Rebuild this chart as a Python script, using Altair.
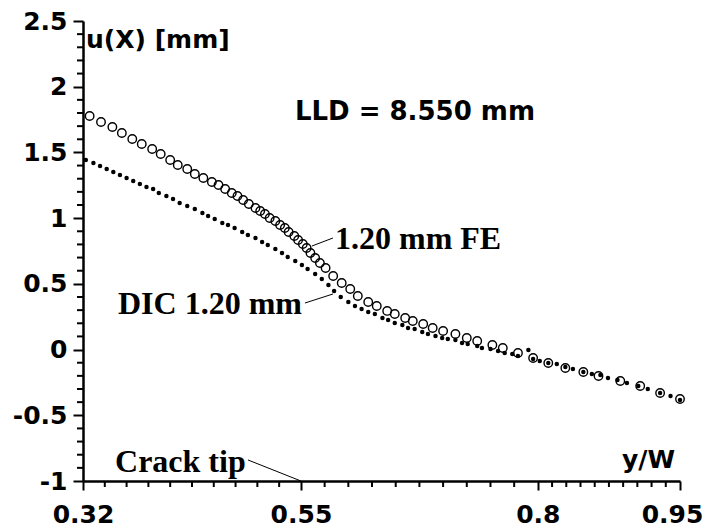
import altair as alt
import pandas as pd

# FE result (open circles)
fe_x = [0.327, 0.339, 0.351, 0.361, 0.372, 0.382, 0.393, 0.402, 0.412, 0.420,
        0.430, 0.438, 0.447, 0.456, 0.463, 0.470, 0.477, 0.483, 0.489, 0.495,
        0.502, 0.507, 0.512, 0.517, 0.523, 0.528, 0.533, 0.537, 0.543, 0.547,
        0.552, 0.556, 0.560, 0.565, 0.570, 0.576, 0.584, 0.593, 0.602, 0.610,
        0.621, 0.630, 0.641, 0.649, 0.660, 0.668, 0.679, 0.689, 0.700, 0.713,
        0.725, 0.736, 0.752, 0.763, 0.779, 0.795, 0.811, 0.829, 0.848, 0.864,
        0.887, 0.908, 0.929, 0.950]
fe_u = [1.777, 1.732, 1.693, 1.648, 1.602, 1.564, 1.526, 1.488, 1.442, 1.404,
        1.374, 1.336, 1.305, 1.275, 1.252, 1.222, 1.191, 1.168, 1.138, 1.108,
        1.077, 1.054, 1.032, 1.001, 0.978, 0.948, 0.925, 0.895, 0.864, 0.834,
        0.803, 0.773, 0.735, 0.697, 0.659, 0.621, 0.560, 0.507, 0.461, 0.408,
        0.362, 0.332, 0.294, 0.271, 0.240, 0.217, 0.195, 0.164, 0.141, 0.119,
        0.088, 0.065, 0.035, 0.012, -0.026, -0.064, -0.102, -0.140, -0.171, -0.201,
        -0.239, -0.277, -0.330, -0.376]

# DIC measurement (small filled dots)
dic_x = [0.323, 0.331, 0.338, 0.345, 0.352, 0.359, 0.366, 0.373, 0.380, 0.387,
         0.394, 0.400, 0.408, 0.415, 0.422, 0.430, 0.438, 0.446, 0.452, 0.459,
         0.467, 0.473, 0.480, 0.488, 0.494, 0.502, 0.509, 0.515, 0.523, 0.530,
         0.536, 0.544, 0.551, 0.557, 0.565, 0.572, 0.579, 0.585, 0.592, 0.600,
         0.607, 0.614, 0.621, 0.628, 0.636, 0.642, 0.649, 0.657, 0.663, 0.670,
         0.678, 0.684, 0.692, 0.699, 0.705, 0.713, 0.720, 0.726, 0.736, 0.741,
         0.750, 0.758, 0.765, 0.773, 0.779, 0.790, 0.795, 0.802, 0.811, 0.820,
         0.829, 0.837, 0.848, 0.857, 0.866, 0.874, 0.884, 0.894, 0.906, 0.916,
         0.929, 0.940, 0.950]
dic_u = [1.442, 1.420, 1.397, 1.374, 1.351, 1.328, 1.305, 1.283, 1.260, 1.237,
         1.222, 1.191, 1.168, 1.146, 1.115, 1.092, 1.070, 1.039, 1.016, 0.994,
         0.963, 0.948, 0.925, 0.895, 0.872, 0.849, 0.819, 0.796, 0.765, 0.735,
         0.704, 0.674, 0.644, 0.613, 0.575, 0.537, 0.491, 0.446, 0.400, 0.362,
         0.332, 0.309, 0.286, 0.271, 0.240, 0.225, 0.202, 0.187, 0.164, 0.157,
         0.134, 0.119, 0.103, 0.088, 0.080, 0.073, 0.050, 0.042, 0.027, 0.012,
         0.004, -0.011, -0.026, -0.034, -0.049, -0.003, -0.072, -0.087, -0.102, -0.110,
         -0.133, -0.148, -0.171, -0.186, -0.193, -0.216, -0.231, -0.254, -0.277, -0.300,
         -0.330, -0.353, -0.384]

x_major = [0.32, 0.55, 0.8, 0.95]
y_major = [-1, -0.5, 0, 0.5, 1, 1.5, 2, 2.5]

x_minor = []
for a, b in zip(x_major[:-1], x_major[1:]):
    for k in range(1, 10):
        x_minor.append(round(a + (b - a) * k / 10, 4))
y_minor = [round(-1 + 0.1 * k, 1) for k in range(36) if k % 5 != 0]

# annotations (data coordinates)
ann_sans_text = ["u(X) [mm]", "y/W"]
ann_sans_x = [0.3232, 0.9447]
ann_sans_y = [2.355, -0.901]

lld_text = ["LLD = 8.550 mm"]
lld_x = [0.6703]
lld_y = [1.747]

serif_text = ["1.20 mm FE", "DIC 1.20 mm", "Crack tip"]
serif_x = [0.5859, 0.3569, 0.3538]
serif_y = [0.765, 0.271, -0.9315]

lead_x = [0.5616, 0.5542, 0.4941]
lead_y = [0.788, 0.354, -0.840]
lead_x2 = [0.5838, 0.5838, 0.55]
lead_y2 = [0.849, 0.423, -1.0]

fe = pd.DataFrame({"x": fe_x, "u": fe_u})
dic = pd.DataFrame({"x": dic_x, "u": dic_u})

H = 460

xscale = alt.Scale(domain=[0.32, 0.95], nice=False, zero=False)
yscale = alt.Scale(domain=[-1, 2.5], nice=False, zero=False)

xaxis = alt.Axis(values=x_major, labelExpr="'' + datum.value", tickSize=9,
                 labelOffset={"condition": {"test": "datum.value > 0.9", "value": -8}, "value": 0},
                 labelPadding=12, labelOverlap=False, labelFlush=False, title=None)
yaxis = alt.Axis(values=y_major, labelExpr="'' + datum.value", tickSize=10,
                 labelPadding=6, labelOverlap=False, labelFlush=False, title=None)

dots = alt.Chart(dic).mark_circle(size=20, color="black", opacity=1).encode(
    x=alt.X("x:Q", scale=xscale, axis=xaxis),
    y=alt.Y("u:Q", scale=yscale, axis=yaxis),
)
circles = alt.Chart(fe).mark_point(shape="circle", filled=False, size=72,
                                   strokeWidth=1.4, color="black", opacity=1).encode(
    x="x:Q", y="u:Q")

# minor ticks on both axes
xminor = alt.Chart(pd.DataFrame({"v": x_minor})).mark_rule(color="black", strokeWidth=2).encode(
    x="v:Q", y=alt.value(H), y2=alt.value(H + 6))
yminor = alt.Chart(pd.DataFrame({"v": y_minor})).mark_rule(color="black", strokeWidth=2).encode(
    y="v:Q", x=alt.value(0), x2=alt.value(-6))

leads = alt.Chart(pd.DataFrame({"x": lead_x, "y": lead_y, "x2": lead_x2, "y2": lead_y2})).mark_rule(
    color="black", strokeWidth=1).encode(x="x:Q", y="y:Q", x2="x2:Q", y2="y2:Q")

sans_l = alt.Chart(pd.DataFrame({"t": ann_sans_text[:1], "x": ann_sans_x[:1], "y": ann_sans_y[:1]})).mark_text(
    font="DejaVu Sans", fontWeight="bold", fontSize=25, baseline="middle", align="left", color="black"
).encode(x="x:Q", y="y:Q", text="t:N")
sans_r = alt.Chart(pd.DataFrame({"t": ann_sans_text[1:], "x": ann_sans_x[1:], "y": ann_sans_y[1:]})).mark_text(
    font="DejaVu Sans", fontWeight="bold", fontSize=25, baseline="alphabetic", align="right", color="black"
).encode(x="x:Q", y="y:Q", text="t:N")
lld = alt.Chart(pd.DataFrame({"t": lld_text, "x": lld_x, "y": lld_y})).mark_text(
    font="DejaVu Sans", fontWeight="bold", fontSize=26, baseline="alphabetic", align="center", color="black"
).encode(x="x:Q", y="y:Q", text="t:N")
serif = alt.Chart(pd.DataFrame({"t": serif_text, "x": serif_x, "y": serif_y})).mark_text(
    font="Liberation Serif", fontWeight="bold", fontSize=32, baseline="alphabetic", align="left", color="black"
).encode(x="x:Q", y="y:Q", text="t:N")

chart = alt.layer(dots, circles, xminor, yminor, leads, sans_l, sans_r, lld, serif).properties(
    width=597, height=H, autosize="none",
    padding={"left": 75, "top": 13, "right": 25, "bottom": 50},
).configure_view(stroke=None).configure_axis(
    grid=False, domainColor="black", domainWidth=2.5, tickColor="black", tickWidth=2,
    labelFont="DejaVu Sans", labelFontWeight="bold", labelFontSize=25, labelColor="black",
)

chart.save("out.html", embed_options={"renderer": "svg", "actions": False})
